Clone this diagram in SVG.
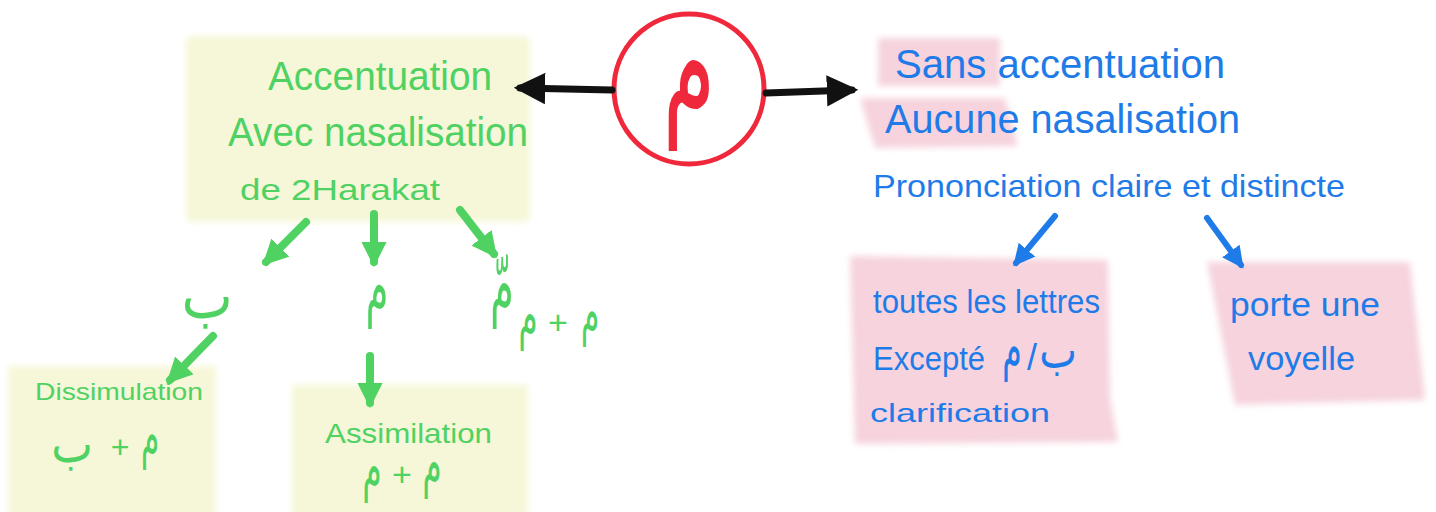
<svg xmlns="http://www.w3.org/2000/svg" width="1436" height="512" viewBox="0 0 1436 512">
<defs>
<filter id="soft" x="-10%" y="-10%" width="120%" height="120%"><feGaussianBlur stdDeviation="3"/></filter>
<marker id="ahK" viewBox="0 0 10 10" refX="8" refY="5" markerWidth="4.5" markerHeight="4.5" orient="auto-start-reverse" markerUnits="strokeWidth"><path d="M0,0 L10,5 L0,10 Z" fill="#111"/></marker>
<marker id="ahG" viewBox="0 0 10 10" refX="8" refY="5" markerWidth="3.2" markerHeight="3.2" orient="auto" markerUnits="strokeWidth"><path d="M0,0 L10,5 L0,10 Z" fill="#4fd262"/></marker>
<marker id="ahB" viewBox="0 0 10 10" refX="8" refY="5" markerWidth="3.6" markerHeight="3.6" orient="auto" markerUnits="strokeWidth"><path d="M0,0 L10,5 L0,10 Z" fill="#1f7be8"/></marker>
<style>
.yb{fill:#f6f7d8;filter:url(#soft)}
.pk{fill:#f6d3dd;filter:url(#soft)}
.g{fill:#4fd262;font-family:"Liberation Sans",sans-serif}
.b{fill:#1f7be8;font-family:"Liberation Sans",sans-serif}
.ar{font-family:"DejaVu Sans",sans-serif;text-anchor:middle}
.ck{stroke:#111;stroke-width:7;fill:none;stroke-linecap:round}
.cg{stroke:#4fd262;stroke-width:8;fill:none;stroke-linecap:round}
.cb{stroke:#1f7be8;stroke-width:6;fill:none;stroke-linecap:round}
</style>
</defs>
<rect width="1436" height="512" fill="#ffffff"/>

<g id="node-accentuation">
<rect class="yb" x="186" y="36" width="344" height="186" rx="6"/>
<text class="g" x="268" y="90" font-size="40" textLength="224" lengthAdjust="spacingAndGlyphs">Accentuation</text>
<text class="g" x="228" y="146" font-size="40" textLength="300" lengthAdjust="spacingAndGlyphs">Avec nasalisation</text>
<text class="g" x="240" y="200" font-size="30" textLength="200" lengthAdjust="spacingAndGlyphs">de 2Harakat</text>
</g>

<g id="node-mim">
<circle cx="689" cy="89" r="75" fill="none" stroke="#f0283c" stroke-width="5"/>
<text class="ar" transform="translate(689,115) scale(0.7,1.25)" font-size="120" fill="#f0283c">م</text>
</g>

<g id="node-sans">
<rect class="pk" x="878" y="38" width="122" height="48"/>
<path class="pk" d="M860,98 L1005,98 L1018,146 L875,148 Z"/>
<text class="b" x="895" y="78" font-size="40" textLength="330" lengthAdjust="spacingAndGlyphs">Sans accentuation</text>
<text class="b" x="885" y="133" font-size="40" textLength="355" lengthAdjust="spacingAndGlyphs">Aucune nasalisation</text>
<text class="b" x="873" y="197" font-size="32" textLength="472" lengthAdjust="spacingAndGlyphs">Prononciation claire et distincte</text>
</g>

<g id="node-toutes">
<path class="pk" d="M850,256 L1108,260 L1110,398 L1118,442 L855,444 Z"/>
<text class="b" x="873" y="313" font-size="34" textLength="227" lengthAdjust="spacingAndGlyphs">toutes les lettres</text>
<text class="b" x="873" y="370" font-size="34" textLength="112" lengthAdjust="spacingAndGlyphs">Excepté</text>
<text class="b ar" transform="translate(1012,368) scale(0.75,1.4)" font-size="42">م</text>
<text class="b" x="1027" y="370" font-size="36">/</text>
<text class="b ar" transform="translate(1058,368) scale(0.8,1)" font-size="50">ب</text>
<text class="b" x="870" y="422" font-size="26" textLength="180" lengthAdjust="spacingAndGlyphs">clarification</text>
</g>

<g id="node-porte">
<path class="pk" d="M1207,262 L1410,262 L1425,400 L1235,405 Z"/>
<text class="b" x="1230" y="316" font-size="34" textLength="150" lengthAdjust="spacingAndGlyphs">porte une</text>
<text class="b" x="1248" y="370" font-size="34" textLength="107" lengthAdjust="spacingAndGlyphs">voyelle</text>
</g>

<g id="node-ba">
<text class="g ar" transform="translate(207,318) scale(0.85,1)" font-size="64">ب</text>
</g>
<g id="node-mim2">
<text class="g ar" transform="translate(377,312) scale(0.7,1.4)" font-size="52">م</text>
</g>
<g id="node-mimshadda">
<text class="g ar" transform="translate(502,311) scale(0.7,1.4)" font-size="54">مّ</text>
<text class="g ar" transform="translate(528,336) scale(0.7,1.4)" font-size="44">م</text>
<text class="g" x="558" y="334" font-size="34" text-anchor="middle">+</text>
<text class="g ar" transform="translate(590,333) scale(0.7,1.4)" font-size="42">م</text>
</g>

<g id="node-dissimulation">
<rect class="yb" x="8" y="366" width="208" height="150"/>
<text class="g" x="35" y="400" font-size="24" textLength="168" lengthAdjust="spacingAndGlyphs">Dissimulation</text>
<text class="g ar" transform="translate(72,462) scale(0.85,1)" font-size="52">ب</text>
<text class="g" x="120" y="458" font-size="32" text-anchor="middle">+</text>
<text class="g ar" transform="translate(150,456) scale(0.7,1.4)" font-size="42">م</text>
</g>

<g id="node-assimilation">
<rect class="yb" x="292" y="385" width="236" height="131"/>
<text class="g" x="325" y="443" font-size="28" textLength="167" lengthAdjust="spacingAndGlyphs">Assimilation</text>
<text class="g ar" transform="translate(372,488) scale(0.7,1.4)" font-size="44">م</text>
<text class="g" x="402" y="486" font-size="34" text-anchor="middle">+</text>
<text class="g ar" transform="translate(432,484) scale(0.7,1.4)" font-size="44">م</text>
</g>

<g id="connectors">
<line class="ck" x1="612" y1="90" x2="520" y2="88" marker-end="url(#ahK)"/>
<line class="ck" x1="766" y1="93" x2="852" y2="90" marker-end="url(#ahK)"/>
<line class="cg" x1="306" y1="222" x2="266" y2="262" marker-end="url(#ahG)"/>
<line class="cg" x1="374" y1="214" x2="374" y2="262" marker-end="url(#ahG)"/>
<line class="cg" x1="460" y1="210" x2="494" y2="254" marker-end="url(#ahG)"/>
<line class="cg" x1="213" y1="336" x2="170" y2="380" marker-end="url(#ahG)"/>
<line class="cg" x1="370" y1="356" x2="370" y2="403" marker-end="url(#ahG)"/>
<line class="cb" x1="1055" y1="216" x2="1016" y2="263" marker-end="url(#ahB)"/>
<line class="cb" x1="1207" y1="218" x2="1241" y2="265" marker-end="url(#ahB)"/>
</g>
</svg>
